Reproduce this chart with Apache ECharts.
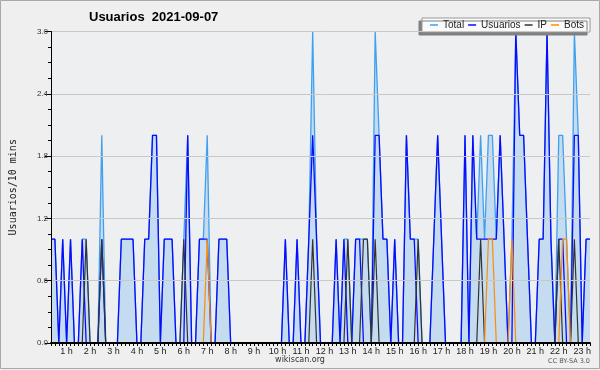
<!DOCTYPE html>
<html><head><meta charset="utf-8">
<script src="https://cdn.jsdelivr.net/npm/echarts@6/dist/echarts.min.js"></script>
<style>html,body{margin:0;padding:0;background:#efefef}#c{width:600px;height:370px}</style>
</head><body><div id="c"></div>
<script>
// 10-minute bins, first bin at 00:20
const firstBin = '00:20';
const binMinutes = 10;
const usuarios = [
  1,1,0,1,0,1,0,0,1,0,  0,0,0,1,0,0,0,0,1,1,  1,1,0,0,1,1,2,2,0,1,  1,1,0,0,0,2,0,0,1,1,
  1,0,0,1,1,1,0,0,0,0,  0,0,0,0,0,0,0,0,0,0,  1,0,0,1,0,0,1,2,1,0,  0,0,0,1,0,1,0,0,1,1,
  0,0,0,2,2,1,1,0,1,0,  0,2,1,1,0,0,0,0,1,2,  1,0,0,0,0,0,2,0,2,1,  1,1,1,1,1,2,1,0,0,3,
  2,2,1,0,0,1,1,3,1,0,  1,1,0,0,2,2,0,1,1];
const ip = [
  0,0,0,0,0,0,0,0,0,1,  0,0,0,1,0,0,0,0,0,0,  0,0,0,0,0,0,0,0,0,0,  0,0,0,0,1,0,0,0,0,0,
  0,0,0,0,0,0,0,0,0,0,  0,0,0,0,0,0,0,0,0,0,  0,0,0,0,0,0,0,1,0,0,  0,0,0,0,0,0,1,0,0,0,
  1,1,0,1,0,0,0,0,0,0,  0,0,0,0,1,0,0,0,0,0,  0,0,0,0,0,0,0,0,0,0,  1,0,0,0,0,0,0,0,0,0,
  0,0,0,0,0,0,0,0,0,0,  1,0,0,0,1,0,0,0,0];
const bots = [
  0,0,0,0,0,0,0,0,0,0,  0,0,0,0,0,0,0,0,0,0,  0,0,0,0,0,0,0,0,0,0,  0,0,0,0,0,0,0,0,0,0,
  1,0,0,0,0,0,0,0,0,0,  0,0,0,0,0,0,0,0,0,0,  0,0,0,0,0,0,0,0,0,0,  0,0,0,0,0,0,0,0,0,0,
  0,0,0,0,0,0,0,0,0,0,  0,0,0,0,0,0,0,0,0,0,  0,0,0,0,0,0,0,0,0,0,  0,0,1,1,0,0,0,0,1,0,
  0,0,0,0,0,0,0,0,0,0,  0,1,1,0,0,0,0,0,0];
const total = [
  1,1,0,1,0,1,0,0,1,1,  0,0,0,2,0,0,0,0,1,1,  1,1,0,0,1,1,2,2,0,1,  1,1,0,0,1,2,0,0,1,1,
  2,0,0,1,1,1,0,0,0,0,  0,0,0,0,0,0,0,0,0,0,  1,0,0,1,0,0,1,3,1,0,  0,0,0,1,0,1,1,0,1,1,
  1,1,0,3,2,1,1,0,1,0,  0,2,1,1,1,0,0,0,1,2,  1,0,0,0,0,0,2,0,2,1,  2,1,2,2,1,2,1,0,1,3,
  2,2,1,0,0,1,1,3,1,0,  2,2,1,0,3,2,0,1,1];
const yTicks = [0, 0.6, 1.2, 1.8, 2.4, 3.0];

// category labels (time of each bin)
const times = [];
{
  let m = parseInt(firstBin.slice(0,2))*60 + parseInt(firstBin.slice(3));
  for (let i = 0; i < usuarios.length; i++, m += binMinutes) {
    times.push(String(Math.floor(m/60)).padStart(2,'0') + ':' + String(m%60).padStart(2,'0'));
  }
}

const chart = echarts.init(document.getElementById('c'), null, {renderer:'canvas'});
const lineSeries = (name, data, color, width, z, area) => ({
  name, type:'line', data, symbol:'none', z,
  lineStyle:{color, width}, itemStyle:{color},
  areaStyle: area ? {color: area, opacity:1} : undefined,
  animation:false
});
chart.setOption({
  backgroundColor:'#efefef',
  animation:false,
  title:{text:'Usuarios  2021-09-07', left:84, top:6,
    textStyle:{fontFamily:'Liberation Sans', fontWeight:'bold', fontSize:13, color:'#000'}},
  legend:{left:422, top:18, icon:'rect', itemWidth:8, itemHeight:1.5, itemGap:4,
    padding:[2,6,2,8], backgroundColor:'#fafafa', borderColor:'#999', borderWidth:1,
    shadowColor:'#808080', shadowOffsetX:-3, shadowOffsetY:3, shadowBlur:0,
    textStyle:{fontFamily:'Liberation Sans', fontSize:10, color:'#222'},
    data:['Total','Usuarios','IP','Bots']},
  grid:{left:46, right:10, top:31.5, bottom:27, show:true, backgroundColor:'#eeeff1', borderWidth:0},
  xAxis:{type:'category', data:times, boundaryGap:false, z:10,
    axisLine:{lineStyle:{color:'#000', width:2}},
    axisTick:{interval:0, length:3, lineStyle:{color:'#000'}},
    axisLabel:{interval:(i, v) => v.endsWith(':00'), formatter:v => parseInt(v,10)+' h',
      fontFamily:'Liberation Sans', fontSize:9, color:'#222', margin:4},
    splitLine:{show:false}},
  yAxis:{type:'value', min:yTicks[0], max:yTicks[yTicks.length-1], interval:0.6, z:10,
    name:'Usuarios/10 mins', nameLocation:'middle', nameRotate:90, nameGap:33,
    nameTextStyle:{fontFamily:'DejaVu Sans Mono', fontSize:10, color:'#222'},
    axisLine:{show:true, lineStyle:{color:'#000'}},
    axisTick:{show:true, length:6, lineStyle:{color:'#000'}},
    minorTick:{show:true, splitNumber:4, length:3, lineStyle:{color:'#000'}},
    axisLabel:{formatter:v => v.toFixed(1), fontFamily:'Liberation Sans', fontSize:8, color:'#333', margin:3},
    splitLine:{lineStyle:{color:'#c8c8c8'}}},
  graphic:[
    {type:'text', left:'center', top:356, style:{text:'wikiscan.org', font:'8px "DejaVu Sans"', fill:'#333'}},
    {type:'text', right:10, top:358, style:{text:'CC BY-SA 3.0', font:'6.5px "DejaVu Sans"', fill:'#555'}},
    {type:'rect', shape:{x:0.5, y:0.5, width:599, height:368}, style:{fill:null, stroke:'#a8a8a8', lineWidth:1}, silent:true}
  ],
  series:[
    lineSeries('Total', total, '#3fa0ef', 1.3, 1, '#c4dbf0'),
    lineSeries('Usuarios', usuarios, '#0a0aff', 1.3, 2),
    lineSeries('IP', ip, '#333333', 1.2, 3),
    lineSeries('Bots', bots, '#ff8c00', 1.2, 4)
  ]
});
</script></body></html>
